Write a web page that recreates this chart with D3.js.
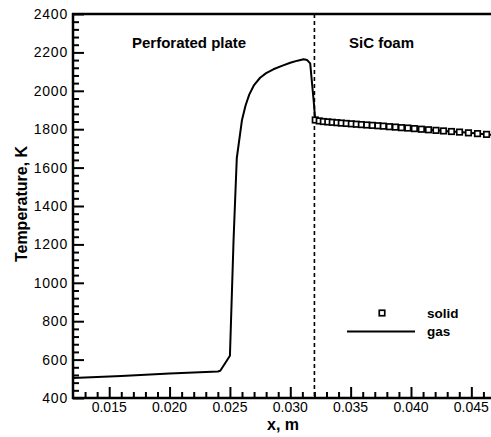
<!DOCTYPE html>
<html><head><meta charset="utf-8">
<script src="https://cdn.jsdelivr.net/npm/d3@7"></script>
<style>body{margin:0;background:#fff}svg{display:block}text{font-family:Arial,"Liberation Sans",sans-serif}</style>
</head><body>
<svg id="c" width="491" height="437"></svg>
<script>
const gasX = [0.0120,0.0160,0.0200,0.0240,0.0242,0.0250,0.02530,0.02543,0.02557,0.02600,0.02630,0.02660,0.02700,0.02750,0.02800,0.02860,0.02930,0.03000,0.03060,0.03110,0.03140,0.03165,0.03195,0.03207,0.03240,0.03274,0.03311,0.03348,0.03386,0.03423,0.03464,0.03506,0.03547,0.03589,0.03634,0.03680,0.03726,0.03771,0.03821,0.03871,0.03921,0.03974,0.04028,0.04086,0.04145,0.04207,0.04269,0.04335,0.04402,0.04476,0.04551,0.04626,0.04670];
const gasT = [504,514,527,538,542,620,1220,1430,1650,1848,1925,1980,2030,2068,2092,2112,2130,2146,2157,2164,2160,2143,1940,1848,1843,1840,1838,1836,1834,1832,1830,1828,1826,1824,1822,1820,1818,1816,1813,1811,1808,1806,1803,1800,1797,1794,1791,1788,1785,1781,1777,1773,1771];
const solidX = [0.03207,0.03240,0.03274,0.03311,0.03348,0.03386,0.03423,0.03464,0.03506,0.03547,0.03589,0.03634,0.03680,0.03726,0.03771,0.03821,0.03871,0.03921,0.03974,0.04028,0.04086,0.04145,0.04207,0.04269,0.04335,0.04402,0.04476,0.04551,0.04626];
const solidT = [1848,1843,1840,1838,1836,1834,1832,1830,1828,1826,1824,1822,1820,1818,1816,1813,1811,1808,1806,1803,1800,1797,1794,1791,1788,1785,1781,1777,1773];
const xTicks = [0.015,0.020,0.025,0.030,0.035,0.040,0.045];
const xMinor = [0.013,0.014,0.016,0.017,0.018,0.019,0.021,0.022,0.023,0.024,0.026,0.027,0.028,0.029,0.031,0.032,0.033,0.034,0.036,0.037,0.038,0.039,0.041,0.042,0.043,0.044,0.046];
const yTicks = [400,600,800,1000,1200,1400,1600,1800,2000,2200,2400];
const yMinor = [440,480,520,560,640,680,720,760,840,880,920,960,1040,1080,1120,1160,1240,1280,1320,1360,1440,1480,1520,1560,1640,1680,1720,1760,1840,1880,1920,1960,2040,2080,2120,2160,2240,2280,2320,2360];
const interfaceX = 0.032;
const regionLabels = ["Perforated plate","SiC foam"];
const legendLabels = ["solid","gas"];

const svg = d3.select("#c");
const L=73, R=491.5, T=14, B=398;
const x = d3.scaleLinear().domain([0.012,0.04667]).range([L,R]);
const y = d3.scaleLinear().domain([400,2400]).range([B,T]);

// ticks (inward)
const gx = svg.append("g").attr("transform",`translate(0,${B})`);
gx.call(d3.axisTop(x).tickValues(xTicks).tickSize(11).tickFormat(""));
const gxm = svg.append("g").attr("transform",`translate(0,${B})`);
gxm.call(d3.axisTop(x).tickValues(xMinor).tickSize(6).tickFormat(""));
const gy = svg.append("g").attr("transform",`translate(${L},0)`);
gy.call(d3.axisRight(y).tickValues(yTicks).tickSize(11).tickFormat(""));
const gym = svg.append("g").attr("transform",`translate(${L},0)`);
gym.call(d3.axisRight(y).tickValues(yMinor).tickSize(6).tickFormat(""));
svg.selectAll(".domain").remove();
svg.selectAll(".tick line").attr("stroke","#000").attr("stroke-width",2);

// tick labels
svg.append("g").selectAll("text").data(xTicks).join("text")
  .attr("x",d=>x(d)).attr("y",412).attr("text-anchor","middle")
  .attr("font-size",14).text(d=>d3.format(".3f")(d));
svg.append("g").selectAll("text").data(yTicks).join("text")
  .attr("x",68).attr("y",d=>y(d)+5).attr("text-anchor","end")
  .attr("font-size",14).attr("letter-spacing",0.8).text(d=>d);

// frame
svg.append("line").attr("x1",L).attr("x2",L).attr("y1",T-1).attr("y2",B+1).attr("stroke","#000").attr("stroke-width",2.5);
svg.append("line").attr("x1",L-1).attr("x2",R).attr("y1",B).attr("y2",B).attr("stroke","#000").attr("stroke-width",2.5);
svg.append("line").attr("x1",L-1).attr("x2",R).attr("y1",T).attr("y2",T).attr("stroke","#000").attr("stroke-width",2.5);

// interface dashed line
svg.append("line").attr("x1",x(interfaceX)).attr("x2",x(interfaceX)).attr("y1",T).attr("y2",B)
  .attr("stroke","#000").attr("stroke-width",1.6).attr("stroke-dasharray","4,3");

// gas line
const gas = gasX.map((v,i)=>[v,gasT[i]]);
svg.append("path").datum(gas)
  .attr("d",d3.line().x(d=>x(d[0])).y(d=>y(d[1])))
  .attr("fill","none").attr("stroke","#000").attr("stroke-width",2).attr("stroke-linejoin","round");

// solid squares
const s=5.5;
svg.append("g").selectAll("rect").data(solidX.map((v,i)=>[v,solidT[i]])).join("rect")
  .attr("x",d=>x(d[0])-s/2).attr("y",d=>y(d[1])-s/2).attr("width",s).attr("height",s)
  .attr("fill","#fff").attr("stroke","#000").attr("stroke-width",1.7);

// region labels
svg.append("text").attr("x",132).attr("y",48).attr("font-size",15).attr("font-weight","bold").text(regionLabels[0]);
svg.append("text").attr("x",349).attr("y",48).attr("font-size",15).attr("font-weight","bold").text(regionLabels[1]);

// legend
svg.append("rect").attr("x",382-s/2).attr("y",313-s/2).attr("width",s).attr("height",s)
  .attr("fill","#fff").attr("stroke","#000").attr("stroke-width",1.7);
svg.append("text").attr("x",427).attr("y",318).attr("font-size",13.5).attr("font-weight","bold").text(legendLabels[0]);
svg.append("line").attr("x1",347).attr("x2",415).attr("y1",331.5).attr("y2",331.5).attr("stroke","#000").attr("stroke-width",2);
svg.append("text").attr("x",427).attr("y",336).attr("font-size",13.5).attr("font-weight","bold").text(legendLabels[1]);

// axis titles
svg.append("text").attr("x",283).attr("y",430).attr("text-anchor","middle").attr("font-size",16).attr("font-weight","bold").text("x, m");
svg.append("text").attr("transform","translate(27,204) rotate(-90)").attr("text-anchor","middle").attr("font-size",16).attr("font-weight","bold").text("Temperature, K");
</script>
</body></html>
